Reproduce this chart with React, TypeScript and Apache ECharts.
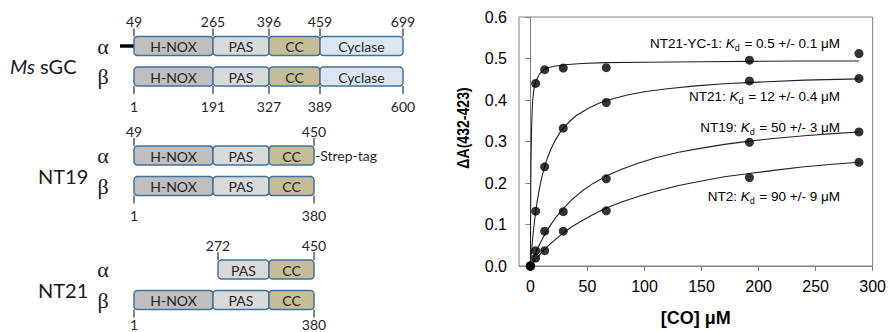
import { useEffect, useRef } from 'react';
import * as echarts from 'echarts';

// ---------- binding plot data ----------
const coConc = [0, 4.6, 12.5, 28.8, 66.5, 192, 288];
const nt2Obs = [0, 0.019, 0.037, 0.084, 0.133, 0.213, 0.25];
const nt19Obs = [0, 0.037, 0.084, 0.131, 0.21, 0.298, 0.323];
const nt21Obs = [0, 0.132, 0.239, 0.332, 0.394, 0.446, 0.452];
const yc1Obs = [0, 0.44, 0.473, 0.477, 0.478, 0.496, 0.512];

// fitted curves, points
const yc1FitX = [0, 0.25, 0.5, 1, 1.5, 2, 3, 4, 5, 6.5, 8, 10, 13, 17, 22, 30, 45, 66, 100, 150, 192, 240, 288];
const yc1FitY = [0, 0.165, 0.25, 0.33, 0.37, 0.4, 0.425, 0.438, 0.447, 0.455, 0.463, 0.469, 0.475, 0.479, 0.482, 0.485, 0.488, 0.49, 0.491, 0.492, 0.493, 0.494, 0.494];
const nt21FitX = [0, 1, 2, 3, 4.6, 6, 8, 10, 12.5, 15, 18, 22, 26, 30, 35, 40, 50, 60, 70, 85, 100, 120, 145, 170, 200, 240, 288];
const nt21FitY = [0, 0.036, 0.067, 0.094, 0.13, 0.157, 0.188, 0.214, 0.24, 0.261, 0.282, 0.304, 0.322, 0.336, 0.35, 0.362, 0.379, 0.392, 0.401, 0.412, 0.42, 0.427, 0.434, 0.439, 0.443, 0.448, 0.451];
const slowFitX = [0, 2, 4.6, 8, 12.5, 17, 22, 29, 36, 45, 55, 66, 80, 95, 110, 130, 150, 170, 192, 215, 240, 265, 288];
const nt19FitY = [0, 0.015, 0.032, 0.052, 0.076, 0.096, 0.116, 0.139, 0.159, 0.18, 0.199, 0.216, 0.233, 0.248, 0.261, 0.274, 0.284, 0.293, 0.301, 0.308, 0.314, 0.319, 0.323];
const nt2FitY = [0, 0.007, 0.016, 0.027, 0.04, 0.052, 0.064, 0.08, 0.094, 0.109, 0.124, 0.139, 0.154, 0.168, 0.18, 0.194, 0.205, 0.215, 0.223, 0.231, 0.239, 0.245, 0.25];

const xTicks = [0, 50, 100, 150, 200, 250, 300];
const kdNames = ['NT21-YC-1', 'NT21', 'NT19', 'NT2'];
const kdValues = ['0.5 +/- 0.1', '12 +/- 0.4', '50 +/- 3', '90 +/- 9'];

// ---------- domain schematic (schematic units on a hidden axis) ----------
const domainNames = ['H-NOX', 'PAS', 'CC', 'Cyclase'];
const domainFills = ['#bfbfbf', '#d9d9d9', '#c4bd97', '#dce6f2'];
const constructNames = ['Ms sGC', 'NT19', 'NT21'];
const chainRowsY = [46, 76.5, 155.5, 186, 269.5, 300];
// [row, domainIndex, start, end]
const domainSegments = [
  [0, 0, 134, 213], [0, 1, 213, 269], [0, 2, 269, 320], [0, 3, 320, 403],
  [1, 0, 134, 213], [1, 1, 213, 269], [1, 2, 269, 320], [1, 3, 320, 403],
  [2, 0, 134, 213], [2, 1, 213, 269], [2, 2, 269, 314],
  [3, 0, 134, 213], [3, 1, 213, 269], [3, 2, 269, 314],
  [4, 1, 218, 269], [4, 2, 269, 314],
  [5, 0, 134, 213], [5, 1, 213, 269], [5, 2, 269, 314],
];
// [row, position, residue number]
const residueMarks = [
  [0, 134, 49], [0, 213, 265], [0, 269, 396], [0, 320, 459], [0, 403, 699],
  [1, 134, 1], [1, 213, 191], [1, 269, 327], [1, 320, 389], [1, 403, 600],
  [2, 134, 49], [2, 314, 450],
  [3, 134, 1], [3, 314, 380],
  [4, 218, 272], [4, 314, 450],
  [5, 134, 1], [5, 314, 380],
];
// [row, start, end]
const nTermExtensions = [[0, 120, 134]];

const BAR_H = 19;
const SANS = 'Lato';
const ARIAL = '"Liberation Sans", Arial, sans-serif';

export default function App() {
  const ref = useRef<HTMLDivElement>(null);
  useEffect(() => {
    if (!ref.current) return;
    const chart = echarts.init(ref.current, undefined, { renderer: 'svg' });

    const zip = (xs: number[], ys: number[]) => xs.map((x, i) => [x, ys[i]]);

    const fitLine = (name: string, xs: number[], ys: number[]) => ({
      name,
      type: 'line',
      xAxisIndex: 1,
      yAxisIndex: 1,
      data: zip(xs, ys),
      showSymbol: false,
      smooth: false,
      lineStyle: { color: '#222', width: 1.1 },
      silent: true,
      z: 3,
    });
    const dots = (name: string, ys: number[]) => ({
      name,
      type: 'scatter',
      xAxisIndex: 1,
      yAxisIndex: 1,
      data: zip(coConc, ys),
      symbol: 'circle',
      symbolSize: 9,
      itemStyle: { color: '#000' },
      z: 4,
    });

    const annotationY = [43.5, 96.5, 127, 196.5];

    const option: any = {
      animation: false,
      grid: [
        { left: 0, top: 0, width: 889, height: 332, show: false },
        {
          left: 519, top: 17, width: 354, height: 249, show: true,
          borderColor: '#808080', borderWidth: 1, backgroundColor: 'transparent',
        },
      ],
      xAxis: [
        { gridIndex: 0, type: 'value', min: 0, max: 889, show: false },
        {
          gridIndex: 1, type: 'value', min: -10, max: 300,
          axisLine: { lineStyle: { color: '#808080', width: 1 } },
          axisTick: { show: true, length: 5, lineStyle: { color: '#808080' }, customValues: xTicks },
          axisLabel: { customValues: xTicks, color: '#000', fontSize: 16, fontFamily: ARIAL, margin: 12 },
          splitLine: { show: false },
          name: '[CO] \u03bcM',
          nameLocation: 'middle',
          nameGap: 43,
          nameTextStyle: { fontSize: 18, fontWeight: 'bold', fontFamily: ARIAL, color: '#000' },
        },
      ],
      yAxis: [
        { gridIndex: 0, type: 'value', min: 0, max: 332, inverse: true, show: false },
        {
          gridIndex: 1, type: 'value', min: 0, max: 0.6, interval: 0.1,
          axisLine: { show: true, lineStyle: { color: '#808080', width: 1 } },
          axisTick: { show: true, length: 5, lineStyle: { color: '#808080' } },
          axisLabel: {
            color: '#000', fontSize: 16, fontFamily: ARIAL, margin: 12,
            formatter: (v: number) => v.toFixed(1),
          },
          splitLine: { show: false },
        },
      ],
      graphic: [
        // y-axis title
        {
          type: 'text', x: 463, y: 128, rotation: Math.PI / 2, scaleX: 0.88,
          style: {
            text: '\u0394A(432-423)', fontSize: 16, fontWeight: 'bold', fontFamily: ARIAL,
            fill: '#000', align: 'center', verticalAlign: 'middle',
          },
        },
        // Kd annotations
        ...kdNames.map((n, i) => ({
          type: 'text', x: 840, y: annotationY[i],
          style: {
            text: `${n}: {i|K}{s|d} = ${kdValues[i]} \u03bcM`,
            fontSize: 13.5, fontFamily: ARIAL, fill: '#000', align: 'right', verticalAlign: 'middle',
            rich: {
              i: { fontSize: 13.5, fontFamily: ARIAL, fontStyle: 'italic', fill: '#000' },
              s: { fontSize: 9, fontFamily: ARIAL, fill: '#000', padding: [9, 1, 0, 0] },
            },
          },
        })),
        // construct names
        ...constructNames.map((n, i) => {
          const y = (chainRowsY[i * 2] + chainRowsY[i * 2 + 1]) / 2 + 5;
          return {
            type: 'text', x: i === 0 ? 10 : 38, y,
            style: {
              text: i === 0 ? '{it|Ms} sGC' : n,
              fontSize: 20, fontFamily: SANS, fill: '#1a1a1a', verticalAlign: 'middle', align: 'left',
              rich: { it: { fontSize: 20, fontFamily: SANS, fontStyle: 'italic', fill: '#1a1a1a' } },
            },
          };
        }),
        // chain symbols
        ...chainRowsY.map((y, r) => ({
          type: 'text', x: 103, y: y,
          style: {
            text: r % 2 === 0 ? '\u03b1' : '\u03b2',
            fontSize: 22, fontFamily: '"Liberation Serif", "DejaVu Serif", serif', fill: '#1a1a1a',
            align: 'center', verticalAlign: 'middle',
          },
        })),
        // strep tag
        {
          type: 'text', x: 315, y: chainRowsY[2],
          style: {
            text: '-Strep-tag', fontSize: 14, fontFamily: SANS, fill: '#262626',
            align: 'left', verticalAlign: 'middle',
          },
        },
      ],
      series: [
        {
          type: 'custom',
          xAxisIndex: 0, yAxisIndex: 0,
          data: nTermExtensions.map((e) => [e[1], e[2], chainRowsY[e[0]]]),
          renderItem: (_p: any, api: any) => {
            const a = api.coord([api.value(0), api.value(2)]);
            const b = api.coord([api.value(1), api.value(2)]);
            return {
              type: 'line',
              shape: { x1: a[0], y1: a[1], x2: b[0], y2: b[1] },
              style: { stroke: '#000', lineWidth: 3.5 },
            };
          },
          silent: true,
        },
        {
          type: 'custom',
          xAxisIndex: 0, yAxisIndex: 0,
          data: domainSegments.map((s) => [s[2], s[3], chainRowsY[s[0]], s[1]]),
          renderItem: (_p: any, api: any) => {
            const a = api.coord([api.value(0), api.value(2)]);
            const b = api.coord([api.value(1), api.value(2)]);
            const d = api.value(3);
            return {
              type: 'group',
              children: [
                {
                  type: 'rect',
                  shape: { x: a[0], y: a[1] - BAR_H / 2, width: b[0] - a[0], height: BAR_H, r: 3.5 },
                  style: { fill: domainFills[d], stroke: '#41719c', lineWidth: 1.5 },
                },
                {
                  type: 'text',
                  style: {
                    text: domainNames[d], x: (a[0] + b[0]) / 2, y: a[1] + 0.5,
                    align: 'center', verticalAlign: 'middle',
                    fontSize: 14, fontFamily: SANS, fill: '#262626',
                  },
                },
              ],
            };
          },
          silent: true,
        },
        {
          type: 'custom',
          xAxisIndex: 0, yAxisIndex: 0,
          data: residueMarks.map((m) => [m[1], chainRowsY[m[0]], m[2], m[0] % 2]),
          renderItem: (_p: any, api: any) => {
            const c = api.coord([api.value(0), api.value(1)]);
            const below = api.value(3) === 1;
            const edge = below ? c[1] + BAR_H / 2 : c[1] - BAR_H / 2;
            const end = below ? edge + 8 : edge - 8;
            const ly = below ? Math.min(edge + 20, 324) : edge - 15;
            return {
              type: 'group',
              children: [
                {
                  type: 'line',
                  shape: { x1: c[0], y1: edge, x2: c[0], y2: end },
                  style: { stroke: '#595959', lineWidth: 1.5 },
                },
                {
                  type: 'text',
                  style: {
                    text: String(api.value(2)), x: c[0], y: ly,
                    align: 'center', verticalAlign: 'middle',
                    fontSize: 14, fontFamily: SANS, fill: '#262626',
                  },
                },
              ],
            };
          },
          silent: true,
        },
        fitLine('NT21-YC-1 fit', yc1FitX, yc1FitY),
        fitLine('NT21 fit', nt21FitX, nt21FitY),
        fitLine('NT19 fit', slowFitX, nt19FitY),
        fitLine('NT2 fit', slowFitX, nt2FitY),
        dots('NT21-YC-1', yc1Obs),
        dots('NT21', nt21Obs),
        dots('NT19', nt19Obs),
        dots('NT2', nt2Obs),
      ],
    };

    chart.setOption(option);
    return () => chart.dispose();
  }, []);

  return (
    <div
      ref={ref}
      style={{ position: 'absolute', left: 0, top: 0, width: 889, height: 332, background: '#fff' }}
    />
  );
}
